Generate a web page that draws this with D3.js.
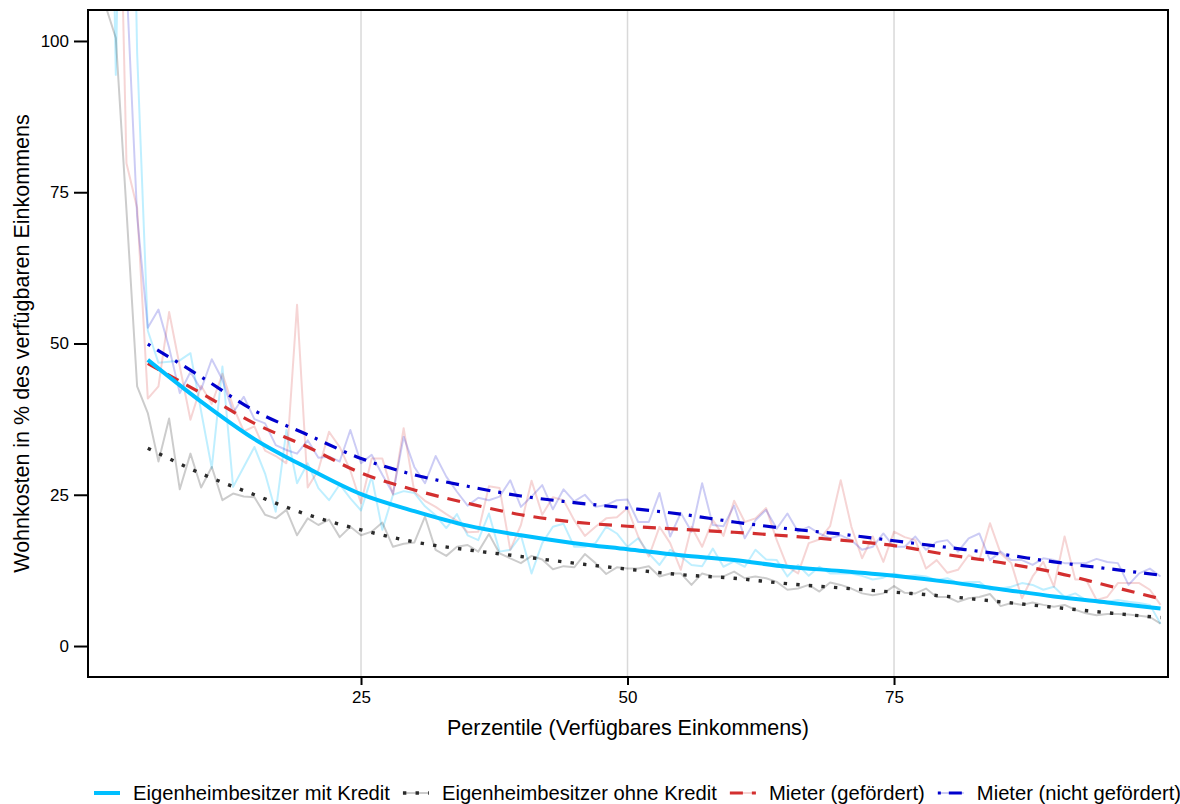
<!DOCTYPE html>
<html><head><meta charset="utf-8">
<script src="https://cdn.jsdelivr.net/npm/d3@7"></script>
<style>
html,body{margin:0;padding:0;background:#fff;}
text{font-family:"Liberation Sans",Arial,sans-serif;}
</style></head>
<body><svg id="chart" width="1180" height="804"></svg>
<script>
const percentiles = d3.range(1, 101);
const seriesNames = ["Eigenheimbesitzer mit Kredit","Eigenheimbesitzer ohne Kredit","Mieter (gefördert)","Mieter (nicht gefördert)"];
const xTicks = [25, 50, 75];
const yTicks = [0, 25, 50, 75, 100];

const rawMitKredit = [195,94.4,190,98,52.1,46.8,47.0,47.2,48.4,38.8,
29.4,46.2,26.3,29.6,32.9,28.5,22.2,35.7,26.9,30.2,
26.1,24.1,26.7,24.4,22.4,28.0,19.2,25.0,25.6,25.3,
23.1,21.6,19.5,21.8,18.3,17.5,21.9,15.6,15.9,18.3,
12.0,17.0,19.7,20.2,16.4,16.4,17.0,19.7,18.6,16.4,
17.8,15.3,13.4,15.9,14.8,13.4,13.2,16.1,13.1,14.0,
13.1,15.9,14.3,14.2,11.5,13.4,11.6,13.1,12.0,12.0,
12.0,11.6,11.0,11.3,12.0,11.5,11.7,11.5,10.9,11.2,
10.4,10.6,10.6,9.3,9.5,9.8,10.4,10.1,9.3,9.8,
8.1,8.7,7.6,7.6,7.3,7.6,7.3,7.1,6.8,3.7];
const rawOhneKredit = [106,100.5,72,42.9,38.5,30.5,37.6,25.9,31.8,26.2,
29.6,24.1,25.2,24.7,24.6,21.7,21.1,22.5,18.3,21.1,
20.0,20.9,18.0,19.7,18.3,18.9,20.4,16.4,16.9,17.1,
21.4,15.9,14.9,16.4,16.7,15.6,18.5,15.3,14.5,13.7,
14.9,14.3,12.7,13.2,13.0,15.2,13.7,11.9,13.0,12.8,
12.8,13.2,11.5,12.0,12.0,10.1,12.0,11.5,11.5,12.3,
11.2,11.5,11.2,10.6,9.3,9.5,10.1,9.0,10.5,10.1,
9.5,8.7,8.4,8.7,9.9,8.8,8.7,9.5,8.1,8.1,
7.3,7.9,8.1,8.6,6.6,7.1,6.8,7.2,6.8,6.5,
6.8,6.0,5.4,5.1,5.3,5.3,5.2,5.0,4.8,3.7];
const rawGefoerdert = [180,158,79.8,72.4,40.9,42.9,55.2,46.2,37.4,43.0,
40.0,45.0,39.6,35.5,36.3,32.3,31.4,30.2,56.4,26.2,
29.1,35.4,32.9,29.0,23.6,31.0,31.0,25.0,36.0,25.5,
24.0,23.0,21.8,20.7,18.8,18.9,26.4,26.1,15.9,20.0,
27.3,21.7,24.6,24.1,20.8,18.2,19.7,21.1,21.3,22.8,
18.1,14.8,19.7,17.0,12.6,19.7,16.4,20.8,18.2,24.0,
20.5,21.1,22.8,17.5,13.1,12.0,17.0,17.6,19.8,27.4,
19.7,14.5,18.1,13.9,18.9,18.0,17.5,12.8,14.2,12.1,
12.6,15.0,14.2,20.3,15.3,13.7,7.9,11.5,13.9,9.8,
18.1,11.0,11.0,7.6,8.1,10.4,10.4,10.4,9.3,6.8];
const rawNichtGefoerdert = [160,140,110,71,52.6,55.6,49.3,41.8,45.3,42.4,
47.4,44.0,38.6,41.2,37.5,36.8,33.2,32.4,31.8,34.0,
31.1,31.3,30.5,35.7,30.2,31.6,28.3,25.2,34.6,29.6,
26.9,31.4,28.0,25.5,23.2,24.5,24.1,24.7,27.4,23.0,
24.7,26.6,22.6,25.9,23.9,25.0,23.0,23.3,24.1,24.2,
20.5,20.5,25.3,18.1,22.0,18.9,26.9,20.0,19.8,23.2,
17.8,20.8,22.5,19.4,21.9,18.9,19.7,18.6,17.8,18.3,
17.5,15.9,16.4,18.6,16.4,16.4,18.1,15.9,17.2,17.5,
15.6,17.8,18.6,14.2,15.6,14.2,14.2,13.4,14.5,14.2,
13.7,13.7,13.7,14.4,13.9,13.7,10.1,12.0,12.8,11.5];

const fitX = [5,10,15,20,25,30,35,40,45,50,55,60,65,70,75,80,85,90,95,100];
const fitMitKredit = [47.3,40.4,34.2,29.4,25.1,22.3,19.9,18.3,17.0,16.0,15.0,14.2,13.1,12.4,11.6,10.6,9.4,8.2,7.2,6.2];
const fitOhneKredit = [32.7,28.5,25.0,21.7,19.2,17.2,15.9,14.8,13.7,12.7,11.8,11.2,10.3,9.6,8.9,8.2,7.3,6.4,5.5,4.7];
const fitGefoerdert = [46.7,41.8,36.8,32.9,28.6,25.8,23.6,21.7,20.5,19.8,19.3,18.8,18.2,17.5,16.6,15.1,13.8,12.2,10.0,7.8];
const fitNichtGefoerdert = [49.9,44.5,38.9,34.9,31.0,28.3,26.4,24.8,23.7,22.8,21.8,20.5,19.4,18.5,17.4,16.3,15.2,13.9,12.8,11.7];

const styles = [
  {color:"#00BFFF", rawOpacity:0.25, width:4, dash:null},
  {color:"#2b2b2b", rawOpacity:0.2, width:3.4, dash:"3.4,9.2", rawColor:"#000000"},
  {color:"#D32F2F", rawOpacity:0.2, width:3.2, dash:"13,9"},
  {color:"#0000CD", rawOpacity:0.2, width:3.2, dash:"3,8,13,8"}
];
const raws = [rawMitKredit, rawOhneKredit, rawGefoerdert, rawNichtGefoerdert];
const fits = [fitMitKredit, fitOhneKredit, fitGefoerdert, fitNichtGefoerdert];

const svg = d3.select("#chart");
const L = 88, R = 1168, T = 10, B = 677;
const x = d3.scaleLinear().domain([-0.61, 100.7]).range([L, R]);
const y = d3.scaleLinear().domain([-5.12, 105.12]).range([B, T]);

svg.append("defs").append("clipPath").attr("id","clip")
  .append("rect").attr("x",L).attr("y",T).attr("width",R-L).attr("height",B-T);

// grid
svg.append("g").selectAll("line").data(xTicks).join("line")
  .attr("x1",d=>x(d)).attr("x2",d=>x(d)).attr("y1",T).attr("y2",B)
  .attr("stroke","#d9d9d9").attr("stroke-width",1.5);

const plot = svg.append("g").attr("clip-path","url(#clip)");
const rawLine = d3.line().x((d,i)=>x(percentiles[i])).y(d=>y(d));
raws.forEach((r,k)=>{
  plot.append("path").datum(r).attr("d",rawLine).attr("fill","none")
    .attr("stroke", styles[k].rawColor || styles[k].color)
    .attr("stroke-opacity", styles[k].rawOpacity).attr("stroke-width",2)
    .attr("stroke-linejoin","round");
});
const fitLine = d3.line().x((d,i)=>x(fitX[i])).y(d=>y(d)).curve(d3.curveMonotoneX);
[1,2,3,0].forEach(k=>{
  plot.append("path").datum(fits[k]).attr("d",fitLine).attr("fill","none")
    .attr("stroke",styles[k].color).attr("stroke-width",styles[k].width)
    .attr("stroke-dasharray",styles[k].dash);
});

// border
svg.append("rect").attr("x",L).attr("y",T).attr("width",R-L).attr("height",B-T)
  .attr("fill","none").attr("stroke","#000").attr("stroke-width",2);

// y axis
const yAxis = svg.append("g").attr("transform",`translate(${L},0)`)
  .call(d3.axisLeft(y).tickValues(yTicks).tickSize(14).tickPadding(5));
yAxis.select(".domain").remove();
yAxis.selectAll(".tick line").attr("stroke","#000").attr("stroke-width",2);
yAxis.selectAll("text").attr("font-size",17).attr("fill","#000")
  .style("font-family","'Liberation Sans',Arial,sans-serif");

const xAxis = svg.append("g").attr("transform",`translate(0,${B})`)
  .call(d3.axisBottom(x).tickValues(xTicks).tickSize(8).tickPadding(6));
xAxis.select(".domain").remove();
xAxis.selectAll(".tick line").attr("stroke","#000").attr("stroke-width",2);
xAxis.selectAll("text").attr("font-size",17).attr("fill","#000")
  .style("font-family","'Liberation Sans',Arial,sans-serif");

svg.append("text").attr("x",(L+R)/2).attr("y",735).attr("text-anchor","middle")
  .attr("font-size",21.5).text("Perzentile (Verfügbares Einkommens)");
svg.append("text").attr("transform",`translate(29,${(T+B)/2}) rotate(-90)`)
  .attr("text-anchor","middle").attr("font-size",21.5)
  .text("Wohnkosten in % des verfügbaren Einkommens");

// legend (laid out by measured text widths)
const legY = 793;
let cx = 94;
seriesNames.forEach((name,k)=>{
  const g = svg.append("g").attr("transform",`translate(${cx},${legY})`);
  g.append("line").attr("x1",0).attr("x2",26).attr("y1",0).attr("y2",0)
    .attr("stroke",styles[k].rawColor||styles[k].color).attr("stroke-opacity",styles[k].rawOpacity)
    .attr("stroke-width",2);
  g.append("line").attr("x1",0).attr("x2",26).attr("y1",0).attr("y2",0)
    .attr("stroke",styles[k].color).attr("stroke-width",styles[k].width)
    .attr("stroke-dasharray",styles[k].dash);
  const t = g.append("text").attr("x",39).attr("y",0).attr("dy","0.35em")
    .attr("font-size",20.2).text(name);
  cx += 39 + t.node().getComputedTextLength() + 13;
});
</script></body></html>
